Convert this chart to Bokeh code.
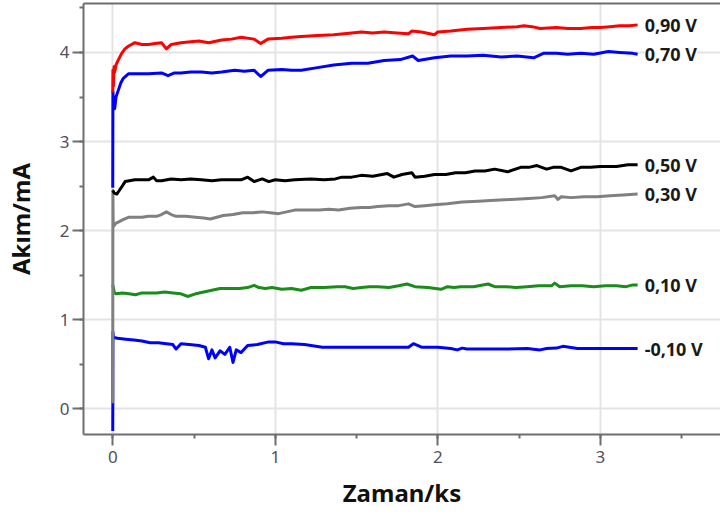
from bokeh.plotting import figure
from bokeh.models import (Range1d, SingleIntervalTicker, LinearAxis, FixedTicker,
                          ColumnDataSource, LabelSet)
from bokeh.core.properties import value
from bokeh.embed import file_html
from bokeh.resources import INLINE

# Chronoamperometry curves: current (mA) vs time (ks) at several potentials
red_090 = [(0, 3.55), (0.001, 3.80), (0.004, 3.62), (0.008, 3.84), (0.012, 3.78),
           (0.02, 3.86), (0.035, 3.92), (0.055, 3.99), (0.075, 4.04), (0.096, 4.07),
           (0.136, 4.11), (0.18, 4.09), (0.22, 4.09), (0.26, 4.10), (0.30, 4.11),
           (0.33, 4.04), (0.36, 4.09), (0.42, 4.11), (0.48, 4.12), (0.53, 4.13),
           (0.59, 4.11), (0.67, 4.14), (0.73, 4.15), (0.79, 4.17), (0.87, 4.15),
           (0.91, 4.10), (0.955, 4.15), (1.04, 4.16), (1.10, 4.17), (1.16, 4.18),
           (1.26, 4.19), (1.36, 4.20), (1.47, 4.22), (1.53, 4.23), (1.60, 4.22),
           (1.67, 4.23), (1.75, 4.22), (1.82, 4.21), (1.84, 4.24), (1.90, 4.23),
           (1.98, 4.20), (2.00, 4.23), (2.08, 4.24), (2.18, 4.26), (2.28, 4.27),
           (2.39, 4.28), (2.49, 4.29), (2.53, 4.30), (2.58, 4.29), (2.63, 4.27),
           (2.73, 4.28), (2.80, 4.27), (2.88, 4.27), (2.95, 4.28), (3.00, 4.28),
           (3.06, 4.29), (3.12, 4.30), (3.18, 4.30), (3.23, 4.31)]

blue_070 = [(0, 2.48), (0.001, 3.56), (0.006, 3.40), (0.012, 3.37), (0.02, 3.50),
            (0.035, 3.58), (0.05, 3.66), (0.065, 3.71), (0.096, 3.76), (0.15, 3.76),
            (0.22, 3.76), (0.30, 3.77), (0.34, 3.74), (0.38, 3.77), (0.42, 3.77),
            (0.48, 3.78), (0.545, 3.78), (0.61, 3.77), (0.67, 3.78), (0.75, 3.80),
            (0.81, 3.79), (0.87, 3.80), (0.91, 3.73), (0.955, 3.80), (1.04, 3.81),
            (1.10, 3.80), (1.16, 3.80), (1.26, 3.83), (1.36, 3.86), (1.47, 3.88),
            (1.57, 3.88), (1.67, 3.91), (1.77, 3.92), (1.845, 3.96), (1.88, 3.91),
            (1.98, 3.94), (2.08, 3.96), (2.18, 3.96), (2.28, 3.97), (2.39, 3.95),
            (2.49, 3.96), (2.59, 3.94), (2.65, 3.99), (2.73, 3.99), (2.80, 3.98),
            (2.88, 3.99), (2.96, 3.98), (3.05, 4.01), (3.12, 4.00), (3.20, 3.99),
            (3.23, 3.98)]

black_050 = [(0, 2.45), (0.01, 2.42), (0.025, 2.41), (0.04, 2.45), (0.055, 2.49),
             (0.076, 2.55), (0.136, 2.57), (0.18, 2.57), (0.22, 2.57), (0.25, 2.60),
             (0.27, 2.56), (0.30, 2.56), (0.36, 2.58), (0.42, 2.57), (0.48, 2.58),
             (0.545, 2.57), (0.61, 2.56), (0.67, 2.57), (0.73, 2.57), (0.79, 2.57),
             (0.83, 2.60), (0.87, 2.55), (0.92, 2.58), (0.96, 2.55), (1.00, 2.57),
             (1.06, 2.56), (1.12, 2.57), (1.22, 2.58), (1.30, 2.57), (1.37, 2.58),
             (1.41, 2.60), (1.47, 2.60), (1.53, 2.62), (1.60, 2.61), (1.69, 2.64),
             (1.73, 2.60), (1.78, 2.63), (1.84, 2.65), (1.86, 2.60), (1.92, 2.61),
             (1.98, 2.63), (2.05, 2.63), (2.11, 2.65), (2.17, 2.65), (2.23, 2.67),
             (2.29, 2.67), (2.35, 2.69), (2.43, 2.66), (2.51, 2.71), (2.56, 2.71),
             (2.61, 2.73), (2.67, 2.69), (2.71, 2.71), (2.76, 2.71), (2.82, 2.67),
             (2.88, 2.71), (2.94, 2.71), (3.00, 2.72), (3.06, 2.72), (3.10, 2.72),
             (3.17, 2.74), (3.23, 2.74)]

gray_030 = [(0, 0.06), (0.001, 2.45), (0.003, 2.04), (0.018, 2.08), (0.04, 2.10),
            (0.06, 2.12), (0.10, 2.15), (0.14, 2.15), (0.18, 2.15), (0.22, 2.16),
            (0.27, 2.16), (0.30, 2.18), (0.33, 2.21), (0.36, 2.18), (0.39, 2.16),
            (0.45, 2.16), (0.51, 2.15), (0.56, 2.14), (0.60, 2.13), (0.64, 2.15),
            (0.68, 2.17), (0.74, 2.18), (0.80, 2.20), (0.86, 2.20), (0.92, 2.21),
            (0.97, 2.20), (1.02, 2.19), (1.07, 2.21), (1.12, 2.23), (1.20, 2.23),
            (1.27, 2.23), (1.33, 2.24), (1.39, 2.23), (1.46, 2.25), (1.53, 2.26),
            (1.58, 2.26), (1.63, 2.27), (1.70, 2.28), (1.76, 2.28), (1.82, 2.30),
            (1.86, 2.27), (1.92, 2.28), (1.98, 2.29), (2.06, 2.30), (2.15, 2.32),
            (2.25, 2.33), (2.35, 2.34), (2.45, 2.35), (2.56, 2.36), (2.64, 2.37),
            (2.72, 2.39), (2.74, 2.35), (2.76, 2.38), (2.82, 2.37), (2.90, 2.38),
            (2.98, 2.38), (3.06, 2.39), (3.14, 2.40), (3.23, 2.41)]

green_010 = [(0, 1.39), (0.01, 1.30), (0.02, 1.29), (0.06, 1.30), (0.10, 1.29),
             (0.14, 1.28), (0.18, 1.30), (0.22, 1.30), (0.27, 1.30), (0.32, 1.31),
             (0.37, 1.30), (0.42, 1.29), (0.46, 1.26), (0.51, 1.29), (0.56, 1.31),
             (0.61, 1.33), (0.66, 1.35), (0.72, 1.35), (0.78, 1.35), (0.83, 1.36),
             (0.87, 1.385), (0.90, 1.36), (0.94, 1.35), (0.98, 1.36), (1.04, 1.34),
             (1.10, 1.35), (1.16, 1.33), (1.22, 1.36), (1.30, 1.36), (1.38, 1.37),
             (1.43, 1.37), (1.48, 1.35), (1.53, 1.36), (1.58, 1.37), (1.63, 1.37),
             (1.70, 1.36), (1.76, 1.38), (1.81, 1.40), (1.86, 1.37), (1.94, 1.36),
             (2.02, 1.34), (2.06, 1.37), (2.10, 1.36), (2.14, 1.37), (2.22, 1.37),
             (2.31, 1.40), (2.35, 1.37), (2.42, 1.37), (2.48, 1.36), (2.55, 1.37),
             (2.62, 1.38), (2.70, 1.38), (2.72, 1.41), (2.75, 1.37), (2.82, 1.38),
             (2.89, 1.38), (2.96, 1.37), (3.03, 1.38), (3.10, 1.38), (3.16, 1.37),
             (3.20, 1.39), (3.23, 1.39)]

blue_m010 = [(0, -0.25), (0.0005, 0.07), (0.001, 0.86), (0.004, 0.80), (0.03, 0.79),
             (0.08, 0.78), (0.13, 0.77), (0.18, 0.76), (0.23, 0.74), (0.28, 0.74),
             (0.33, 0.73), (0.37, 0.72), (0.39, 0.67), (0.42, 0.73), (0.47, 0.72),
             (0.53, 0.71), (0.57, 0.69), (0.59, 0.56), (0.61, 0.66), (0.63, 0.57),
             (0.66, 0.65), (0.69, 0.61), (0.72, 0.69), (0.74, 0.52), (0.76, 0.66),
             (0.79, 0.63), (0.83, 0.71), (0.89, 0.72), (0.96, 0.75), (1.00, 0.75),
             (1.05, 0.73), (1.10, 0.73), (1.18, 0.72), (1.29, 0.69), (1.40, 0.69),
             (1.53, 0.69), (1.65, 0.69), (1.75, 0.69), (1.82, 0.69), (1.85, 0.73),
             (1.90, 0.69), (2.00, 0.69), (2.08, 0.675), (2.12, 0.66), (2.15, 0.68),
             (2.18, 0.67), (2.30, 0.67), (2.43, 0.67), (2.55, 0.675), (2.63, 0.66),
             (2.67, 0.675), (2.73, 0.68), (2.77, 0.70), (2.81, 0.69), (2.86, 0.675),
             (2.95, 0.675), (3.05, 0.675), (3.15, 0.675), (3.23, 0.675)]

# drawing order (back to front), colour and potential label
series = [
    (blue_m010, "#0000ff", "-0,10 V"),
    (green_010, "#1a8c1a", "0,10 V"),
    (gray_030, "#808080", "0,30 V"),
    (black_050, "#000000", "0,50 V"),
    (blue_070, "#0000ff", "0,70 V"),
    (red_090, "#ff0000", "0,90 V"),
]

AXIS_GRAY = "#6e6e6e"
TICK_FONT = "Noto Sans"
TITLE_FONT = "Noto Sans"

p = figure(width=720, height=517, output_backend="svg", toolbar_location=None,
           x_range=Range1d(-0.18, 3.74), y_range=Range1d(-0.29, 4.55),
           min_border_left=82, min_border_right=0, min_border_top=3,
           min_border_bottom=83)
p.outline_line_color = None
p.background_fill_color = "white"

for pts, color, _ in series:
    xs = [t for t, _ in pts]
    ys = [v for _, v in pts]
    p.line(xs, ys, line_color=color, line_width=3, line_join="round")

# labels at the end of each curve
end_src = ColumnDataSource(dict(
    x=[pts[-1][0] for pts, _, _ in series],
    y=[pts[-1][1] for pts, _, _ in series],
    text=[lab for _, _, lab in series],
))
p.add_layout(LabelSet(x="x", y="y", text="text", source=end_src, x_offset=7,
                      text_baseline="middle", text_align="left",
                      text_font=value(TITLE_FONT), text_font_style="bold",
                      text_font_size="18px", text_color="#1a1a1a",
                      background_fill_color="white"))

p.xaxis.ticker = SingleIntervalTicker(interval=1, num_minor_ticks=2)
p.yaxis.ticker = SingleIntervalTicker(interval=1, num_minor_ticks=2)

for ax in (p.xaxis[0], p.yaxis[0]):
    ax.axis_line_color = AXIS_GRAY
    ax.axis_line_width = 2
    ax.major_tick_line_color = AXIS_GRAY
    ax.major_tick_line_width = 2
    ax.minor_tick_line_color = AXIS_GRAY
    ax.minor_tick_line_width = 2
    ax.major_tick_in = 0
    ax.major_tick_out = 11
    ax.minor_tick_in = 0
    ax.minor_tick_out = 4
    ax.major_label_text_font = TICK_FONT
    ax.major_label_text_font_size = "17px"
    ax.major_label_text_color = "#505060"
    ax.axis_label_text_font = TITLE_FONT
    ax.axis_label_text_font_style = "bold"
    ax.axis_label_text_font_size = "24px"
    ax.axis_label_text_color = "#111111"

p.xaxis.axis_label = "Zaman/ks"
p.xaxis.major_label_standoff = 5
p.xaxis.axis_label_standoff = 10
p.yaxis.axis_label = "Akım/mA"
p.yaxis.major_label_standoff = 3
p.yaxis.axis_label_standoff = 20

# plain top border line
top = LinearAxis(ticker=FixedTicker(ticks=[]), axis_line_color=AXIS_GRAY,
                 axis_line_width=2, major_tick_out=0, major_tick_in=0,
                 minor_tick_out=0, minor_tick_in=0, major_label_standoff=0,
                 major_label_text_font_size="0px")
p.add_layout(top, "above")

for g in (p.xgrid[0], p.ygrid[0]):
    g.grid_line_color = "#e4e4e4"
    g.grid_line_width = 2

open("out.html", "w").write(file_html(p, INLINE))
